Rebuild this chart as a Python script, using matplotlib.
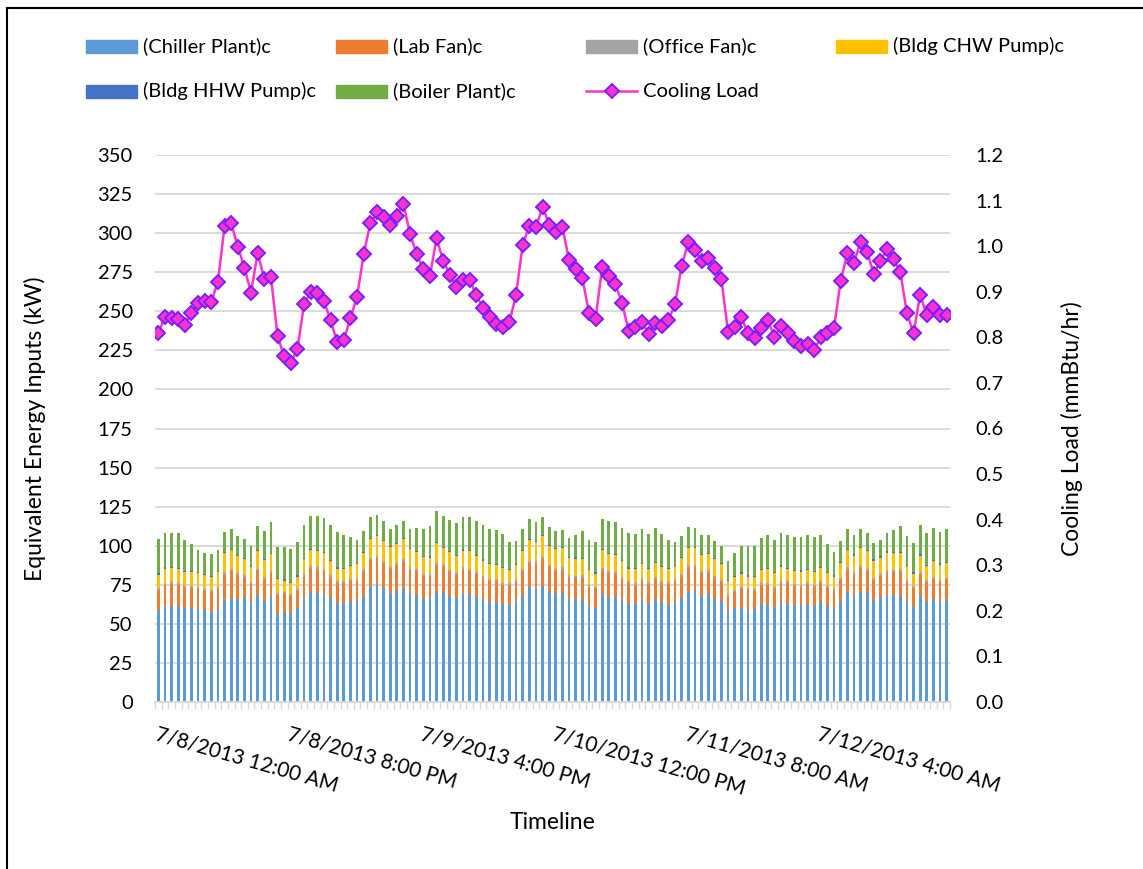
import matplotlib
matplotlib.use("Agg")
import matplotlib.pyplot as plt
import numpy as np
from matplotlib.lines import Line2D
from matplotlib.patches import Rectangle

W, H = 1143, 869

TICK_LABELS = [
    "7/8/2013 12:00 AM",
    "7/8/2013 8:00 PM",
    "7/9/2013 4:00 PM",
    "7/10/2013 12:00 PM",
    "7/11/2013 8:00 AM",
    "7/12/2013 4:00 AM",
]

# hourly values, 7/8/2013 00:00 .. 7/12/2013 23:00 (kW)
chiller_plant = [
    59.1, 61.7, 61.7, 61.5, 60.0, 60.0, 59.4, 58.7, 57.7, 58.9,
    65.3, 66.8, 65.7, 66.4, 63.2, 68.3, 64.5, 67.4, 56.8, 58.1,
    56.8, 60.0, 66.6, 70.4, 69.6, 69.4, 66.6, 63.6, 63.6, 64.5,
    64.5, 68.1, 74.5, 75.1, 72.8, 69.4, 71.7, 73.0, 69.6, 68.7,
    66.6, 66.6, 71.3, 70.0, 68.1, 66.8, 70.0, 69.1, 67.7, 65.7,
    64.3, 64.3, 63.0, 62.1, 63.8, 68.7, 73.6, 72.6, 74.3, 70.9,
    69.1, 69.6, 66.0, 65.7, 65.7, 61.5, 60.2, 68.9, 67.4, 67.0,
    65.3, 63.4, 62.6, 65.1, 62.8, 65.7, 63.8, 63.0, 64.3, 66.4,
    70.2, 71.5, 68.1, 68.9, 66.4, 64.5, 58.1, 60.2, 60.4, 59.1,
    59.4, 62.6, 61.9, 60.4, 63.8, 63.0, 62.1, 61.9, 62.8, 61.7,
    64.0, 61.5, 60.0, 64.5, 70.2, 67.7, 70.6, 70.2, 65.5, 67.0,
    68.5, 68.7, 68.7, 63.8, 60.6, 68.1, 63.8, 65.7, 63.8, 65.1,
]
lab_fan = [
    12.6, 13.4, 13.8, 13.4, 12.8, 12.8, 12.7, 12.4, 12.5, 13.7,
    16.2, 16.8, 15.6, 13.2, 12.1, 15.5, 14.2, 15.2, 11.5, 11.0,
    10.9, 11.3, 13.6, 14.9, 15.1, 14.6, 13.0, 12.4, 12.4, 12.7,
    13.2, 15.3, 16.4, 17.0, 16.1, 15.7, 15.5, 16.8, 15.1, 14.9,
    13.8, 13.8, 16.4, 16.2, 15.1, 14.5, 15.1, 14.9, 14.2, 13.9,
    13.1, 13.1, 11.9, 12.6, 13.2, 15.1, 15.3, 16.1, 17.0, 15.3,
    14.9, 15.1, 13.6, 13.7, 13.9, 12.1, 12.1, 15.6, 15.2, 14.7,
    13.4, 12.6, 12.5, 13.0, 12.7, 13.0, 12.6, 12.7, 12.9, 13.8,
    15.8, 14.7, 14.2, 13.9, 13.0, 12.3, 9.8, 10.4, 11.7, 12.6,
    11.9, 12.3, 13.2, 12.2, 12.2, 13.0, 11.9, 11.9, 12.5, 12.1,
    12.4, 11.7, 11.3, 13.8, 14.5, 13.8, 14.9, 13.4, 12.6, 13.4,
    14.3, 14.5, 14.7, 13.0, 12.2, 13.8, 13.0, 13.2, 13.0, 13.0,
]
office_fan = [
    1.3, 1.3, 1.3, 1.3, 1.3, 1.3, 1.2, 1.2, 1.2, 1.3,
    1.5, 1.5, 1.4, 1.4, 1.3, 1.4, 1.4, 1.4, 1.2, 1.2,
    1.2, 1.2, 1.4, 1.5, 1.5, 1.4, 1.4, 1.3, 1.3, 1.3,
    1.3, 1.4, 1.5, 1.5, 1.5, 1.4, 1.5, 1.5, 1.4, 1.4,
    1.4, 1.4, 1.5, 1.5, 1.4, 1.4, 1.4, 1.4, 1.4, 1.3,
    1.3, 1.3, 1.3, 1.3, 1.3, 1.4, 1.5, 1.5, 1.5, 1.5,
    1.4, 1.4, 1.4, 1.4, 1.4, 1.3, 1.2, 1.4, 1.4, 1.4,
    1.3, 1.3, 1.3, 1.3, 1.3, 1.3, 1.3, 1.3, 1.3, 1.4,
    1.5, 1.5, 1.4, 1.4, 1.4, 1.3, 1.2, 1.2, 1.2, 1.2,
    1.2, 1.3, 1.3, 1.2, 1.3, 1.3, 1.3, 1.3, 1.3, 1.3,
    1.3, 1.3, 1.2, 1.3, 1.4, 1.4, 1.5, 1.4, 1.4, 1.4,
    1.4, 1.4, 1.4, 1.3, 1.3, 1.4, 1.3, 1.4, 1.3, 1.3,
]
bldg_chw_pump = [
    8.5, 8.9, 8.9, 8.7, 8.9, 9.1, 9.2, 9.1, 8.5, 9.5,
    12.5, 11.9, 10.8, 10.6, 10.0, 11.1, 10.6, 10.8, 8.9, 7.3,
    7.4, 7.8, 10.0, 10.2, 10.4, 10.0, 9.3, 8.0, 7.8, 8.5,
    9.1, 10.4, 11.6, 12.3, 12.8, 12.5, 12.4, 12.7, 11.9, 11.1,
    10.9, 10.6, 12.5, 10.8, 11.2, 10.4, 10.4, 11.1, 10.2, 9.5,
    9.6, 9.0, 9.3, 8.5, 9.1, 11.5, 13.2, 12.3, 13.1, 12.3,
    12.4, 12.3, 11.2, 11.0, 10.6, 9.4, 8.7, 11.2, 10.8, 10.8,
    10.0, 8.0, 8.5, 8.9, 8.1, 8.9, 8.7, 8.1, 8.5, 10.4,
    11.0, 10.8, 10.4, 10.6, 10.6, 10.0, 8.2, 7.9, 8.9, 7.4,
    7.4, 8.3, 8.5, 8.7, 9.3, 7.8, 8.3, 8.3, 7.9, 8.1,
    8.0, 7.8, 7.8, 9.5, 11.2, 10.8, 11.7, 11.3, 11.0, 10.6,
    11.4, 10.8, 10.6, 8.7, 8.0, 10.4, 8.9, 10.0, 9.8, 9.5,
]
bldg_hhw_pump = [
    0.8, 0.8, 0.8, 0.8, 0.8, 0.8, 0.7, 0.7, 0.7, 0.7,
    0.7, 0.7, 0.7, 0.7, 0.7, 0.8, 0.8, 0.8, 0.8, 0.8,
    0.8, 0.8, 0.8, 0.8, 0.8, 0.8, 0.8, 0.8, 0.8, 0.8,
    0.7, 0.7, 0.7, 0.7, 0.7, 0.7, 0.7, 0.7, 0.7, 0.7,
    0.8, 0.8, 0.8, 0.8, 0.8, 0.8, 0.8, 0.8, 0.8, 0.8,
    0.8, 0.8, 0.8, 0.8, 0.7, 0.7, 0.7, 0.7, 0.7, 0.7,
    0.7, 0.7, 0.7, 0.7, 0.8, 0.8, 0.8, 0.8, 0.8, 0.8,
    0.8, 0.8, 0.8, 0.8, 0.8, 0.8, 0.8, 0.8, 0.7, 0.7,
    0.7, 0.7, 0.7, 0.7, 0.7, 0.7, 0.7, 0.7, 0.8, 0.8,
    0.8, 0.8, 0.8, 0.8, 0.8, 0.8, 0.8, 0.8, 0.8, 0.8,
    0.8, 0.8, 0.7, 0.7, 0.7, 0.7, 0.7, 0.7, 0.7, 0.7,
    0.7, 0.7, 0.8, 0.8, 0.8, 0.8, 0.8, 0.8, 0.8, 0.8,
]
boiler_plant = [
    22.0, 22.0, 21.8, 22.4, 20.0, 17.0, 14.3, 13.2, 13.9, 13.2,
    12.6, 12.8, 12.2, 11.7, 12.6, 15.3, 18.2, 19.6, 20.1, 20.9,
    20.9, 21.1, 21.1, 21.1, 21.3, 21.6, 22.0, 22.4, 20.7, 17.5,
    14.7, 13.7, 13.5, 12.9, 12.2, 11.2, 11.5, 11.4, 12.2, 14.7,
    17.5, 19.7, 19.6, 19.8, 20.1, 20.7, 20.9, 20.9, 21.3, 22.0,
    21.5, 21.7, 20.9, 17.3, 14.8, 13.2, 12.6, 12.2, 12.0, 11.4,
    10.9, 11.1, 12.0, 14.5, 17.3, 18.7, 19.2, 19.4, 20.5, 20.5,
    20.7, 21.8, 21.7, 21.3, 22.0, 21.8, 20.2, 17.7, 14.8, 13.5,
    12.8, 12.4, 12.0, 11.5, 10.9, 10.7, 12.0, 14.7, 16.9, 18.8,
    19.2, 19.4, 20.9, 20.2, 20.7, 21.1, 20.9, 21.1, 21.5, 21.5,
    20.1, 17.8, 15.0, 13.3, 12.4, 12.2, 11.6, 11.3, 10.3, 10.7,
    11.8, 14.1, 16.7, 18.8, 18.6, 19.0, 20.3, 20.1, 20.2, 20.7,
]
# mmBtu/hr
cooling_load = [
    0.809, 0.845, 0.842, 0.840, 0.827, 0.854, 0.875, 0.880, 0.878, 0.922,
    1.044, 1.050, 0.999, 0.953, 0.898, 0.986, 0.927, 0.933, 0.803, 0.758,
    0.744, 0.774, 0.873, 0.900, 0.898, 0.880, 0.837, 0.790, 0.794, 0.842,
    0.889, 0.983, 1.050, 1.074, 1.065, 1.047, 1.066, 1.093, 1.026, 0.983,
    0.949, 0.935, 1.017, 0.968, 0.937, 0.910, 0.926, 0.926, 0.893, 0.864,
    0.845, 0.829, 0.823, 0.834, 0.893, 1.003, 1.045, 1.041, 1.087, 1.047,
    1.030, 1.041, 0.970, 0.951, 0.931, 0.854, 0.840, 0.954, 0.935, 0.917,
    0.875, 0.814, 0.823, 0.834, 0.807, 0.831, 0.825, 0.838, 0.873, 0.957,
    1.009, 0.992, 0.968, 0.973, 0.953, 0.927, 0.812, 0.823, 0.845, 0.809,
    0.799, 0.820, 0.838, 0.801, 0.825, 0.810, 0.793, 0.782, 0.785, 0.772,
    0.801, 0.809, 0.821, 0.924, 0.984, 0.964, 1.009, 0.987, 0.939, 0.968,
    0.993, 0.971, 0.944, 0.853, 0.809, 0.893, 0.848, 0.867, 0.849, 0.849,
]

SERIES = [
    ("(Chiller Plant)c", chiller_plant, "#5B9BD5"),
    ("(Lab Fan)c", lab_fan, "#ED7D31"),
    ("(Office Fan)c", office_fan, "#A5A5A5"),
    ("(Bldg CHW Pump)c", bldg_chw_pump, "#FFC000"),
    ("(Bldg HHW Pump)c", bldg_hhw_pump, "#4472C4"),
    ("(Boiler Plant)c", boiler_plant, "#70AD47"),
]
LINE_COLOR = "#FF33CC"
MARKER_EDGE = "#7A1FFF"
GRID = "#D9D9D9"
TEXT = "#000000"

# plot area in pixels
PX_L, PX_R, PX_T, PX_B = 155, 950, 155, 702


def fx(px):
    return px / W


def fy(py):
    return 1 - py / H


def main() -> None:
    plt.rcParams["font.family"] = ["Lato", "DejaVu Sans"]
    plt.rcParams["font.size"] = 14

    fig = plt.figure(figsize=(W / 100, H / 100), dpi=100)
    pw, ph = PX_R - PX_L, PX_B - PX_T
    ax = fig.add_axes([fx(PX_L), fy(PX_B), pw / W, ph / H])

    x = np.arange(len(chiller_plant))
    bottom = np.zeros(len(x))
    for name, vals, color in SERIES:
        ax.bar(x, vals, width=0.42, bottom=bottom, color=color, zorder=2)
        bottom += np.asarray(vals)

    ax.set_xlim(-0.5, len(x) - 0.5)
    ax.set_ylim(0, 350)
    ax.set_yticks(np.arange(0, 351, 25))
    ax.yaxis.grid(True, color=GRID, linewidth=1.3, zorder=0)
    ax.set_axisbelow(True)
    for side in ["top", "right", "left"]:
        ax.spines[side].set_visible(False)
    ax.spines["bottom"].set_color(GRID)
    ax.spines["bottom"].set_linewidth(1.3)
    ax.tick_params(axis="y", length=0, pad=16, labelsize=14.5)

    ax.set_xticks(np.arange(0, len(x), 20))
    ax.set_xticklabels(TICK_LABELS, rotation=-16, ha="left", va="top",
                       rotation_mode="anchor", fontsize=15)
    ax.tick_params(axis="x", which="major", length=0, pad=16)
    ax.set_xticks(np.arange(-0.5, len(x), 1), minor=True)
    ax.tick_params(axis="x", which="minor", length=5, color=GRID, width=1)

    ax.set_ylabel("Equivalent Energy Inputs (kW)", fontsize=16.5)
    ax.yaxis.set_label_coords((46 - PX_L) / pw, 0.5)
    ax.set_xlabel("Timeline", fontsize=16.5)
    ax.xaxis.set_label_coords((552 - PX_L) / pw, (PX_B - 812) / ph)

    ax2 = ax.twinx()
    ax2.plot(x, cooling_load, color=LINE_COLOR, linewidth=1.8, marker="D",
             markersize=7, markerfacecolor=LINE_COLOR,
             markeredgecolor=MARKER_EDGE, markeredgewidth=1.4, zorder=3)
    ax2.set_ylim(0, 1.2)
    ax2.set_yticks(np.arange(0, 1.21, 0.1))
    ax2.set_yticklabels([f"{v:.1f}" for v in np.arange(0, 1.21, 0.1)])
    for side in ["top", "right", "left", "bottom"]:
        ax2.spines[side].set_visible(False)
    ax2.tick_params(axis="y", length=0, pad=18, labelsize=14.5)
    ax2.set_ylabel("Cooling Load (mmBtu/hr)", fontsize=16.5)
    ax2.yaxis.set_label_coords((1061 - PX_L) / pw, 0.5)

    # legend laid out like the spreadsheet: 4 equal columns, row-wise
    cols = [86, 336, 586, 836]
    rows = [46, 91]
    entries = [(name, color) for name, _, color in SERIES] + [("Cooling Load", None)]
    for i, (name, color) in enumerate(entries):
        cx = cols[i % 4]
        cy = rows[i // 4]
        if color is not None:
            fig.add_artist(Rectangle((fx(cx), fy(cy + 6.5)), 51 / W, 13 / H,
                                     transform=fig.transFigure, color=color))
        else:
            fig.add_artist(Line2D([fx(cx), fx(cx + 51)], [fy(cy), fy(cy)],
                                  transform=fig.transFigure, color=LINE_COLOR,
                                  linewidth=1.8))
            fig.add_artist(Line2D([fx(cx + 25.5)], [fy(cy)],
                                  transform=fig.transFigure, marker="D",
                                  markersize=7, markerfacecolor=LINE_COLOR,
                                  markeredgecolor=MARKER_EDGE,
                                  markeredgewidth=1.4))
        fig.text(fx(cx + 57), fy(cy), name, ha="left", va="center",
                 fontsize=14.5, color=TEXT)

    # chart border
    fig.add_artist(Line2D([fx(7), fx(7)], [0, fy(8)], transform=fig.transFigure,
                          color="black", linewidth=1.5))
    fig.add_artist(Line2D([fx(7), 1], [fy(8), fy(8)], transform=fig.transFigure,
                          color="black", linewidth=1.5))

    fig.savefig("out.png", dpi=100)


if __name__ == "__main__":
    main()
